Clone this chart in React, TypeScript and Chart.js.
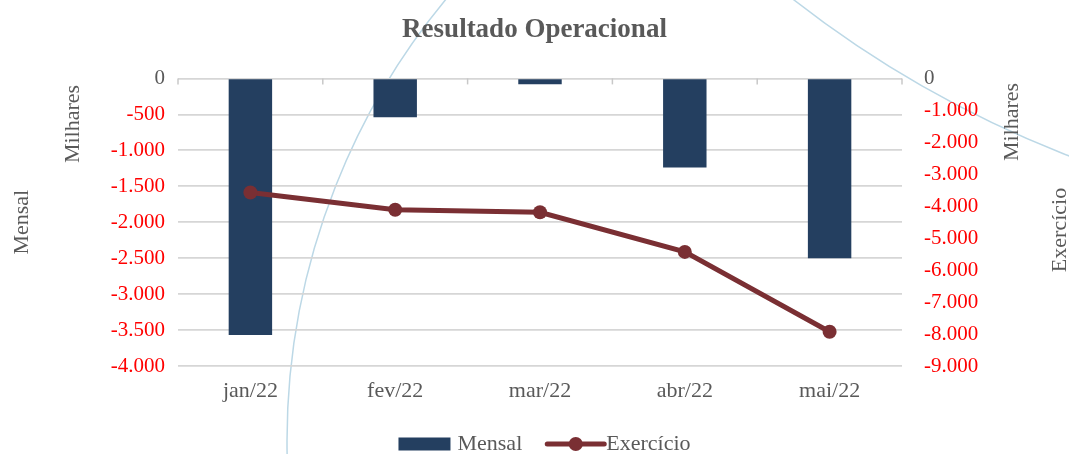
import React, { useEffect, useRef } from 'react';
import { Chart, registerables } from 'chart.js';

Chart.register(...registerables);

const categories = ['jan/22', 'fev/22', 'mar/22', 'abr/22', 'mai/22'];
const mensal = [-3570, -540, -80, -1240, -2500];
const exercicio = [-3570, -4110, -4190, -5430, -7930];
const leftRange = [-4000, 0, 500];
const rightRange = [-9000, 0, 1000];
const seriesNames = ['Mensal', 'Exercício'];
const unitLabel = 'Milhares';
const titleText = 'Resultado Operacional';

const FONT = "'Liberation Serif', 'Times New Roman', serif";
const GRAY = '#595959';
const NAVY = '#243f60';
const WINE = '#7a2f33';
const ARC = '#bcd8e6';

const fmt = (v: number) => {
  const s = Math.abs(v).toString().replace(/\B(?=(\d{3})+(?!\d))/g, '.');
  return (v < 0 ? '-' : '') + s;
};

const decorPlugin = {
  id: 'decor',
  beforeDraw(chart: any) {
    const ctx = chart.ctx;
    ctx.save();
    ctx.strokeStyle = ARC;
    ctx.lineWidth = 1.5;
    ctx.beginPath();
    ctx.arc(980, 441, 693, 0, Math.PI * 2);
    ctx.stroke();
    ctx.beginPath();
    ctx.arc(1464, -860, 1090, 0, Math.PI * 2);
    ctx.stroke();
    ctx.restore();
  },
  afterDraw(chart: any) {
    const ctx = chart.ctx;
    const area = chart.chartArea;
    const yL = chart.scales.y;
    const y0 = yL.getPixelForValue(0);
    const n = categories.length;
    const w = (area.right - area.left) / n;
    ctx.save();
    // category tick marks on zero line
    ctx.strokeStyle = '#c8c8c8';
    ctx.lineWidth = 1.5;
    for (let i = 0; i <= n; i++) {
      const x = area.left + i * w;
      ctx.beginPath();
      ctx.moveTo(x, y0);
      ctx.lineTo(x, y0 + 6);
      ctx.stroke();
    }
    // axis titles
    ctx.fillStyle = GRAY;
    ctx.font = `22px ${FONT}`;
    ctx.textAlign = 'center';
    ctx.textBaseline = 'middle';
    const vtext = (t: string, x: number, y: number) => {
      ctx.save();
      ctx.translate(x, y);
      ctx.rotate(-Math.PI / 2);
      ctx.fillText(t, 0, 0);
      ctx.restore();
    };
    vtext(seriesNames[0], 22, (area.top + area.bottom) / 2);
    vtext(unitLabel, 73, 124);
    vtext(unitLabel, 1012, 122);
    vtext(seriesNames[1], 1060, 230);
    // legend
    const ly = 444;
    ctx.font = `22px ${FONT}`;
    const t1 = ctx.measureText(seriesNames[0]).width;
    const t2 = ctx.measureText(seriesNames[1]).width;
    const total = 52 + 7 + t1 + 25 + 57 + 2 + t2;
    let x = chart.width / 2 + 10 - total / 2;
    ctx.fillStyle = NAVY;
    ctx.fillRect(x, ly - 6.5, 52, 13);
    x += 59;
    ctx.fillStyle = GRAY;
    ctx.textAlign = 'left';
    ctx.fillText(seriesNames[0], x, ly);
    x += t1 + 25;
    ctx.strokeStyle = WINE;
    ctx.lineWidth = 5;
    ctx.lineCap = 'round';
    ctx.beginPath();
    ctx.moveTo(x, ly);
    ctx.lineTo(x + 57, ly);
    ctx.stroke();
    ctx.fillStyle = WINE;
    ctx.beginPath();
    ctx.arc(x + 28.5, ly, 7, 0, Math.PI * 2);
    ctx.fill();
    x += 59;
    ctx.fillStyle = GRAY;
    ctx.fillText(seriesNames[1], x, ly);
    ctx.restore();
  },
};

export default function App() {
  const ref = useRef<HTMLCanvasElement | null>(null);
  useEffect(() => {
    document.body.style.margin = '0';
    const canvas = ref.current;
    if (!canvas) return;
    const chart = new Chart(canvas, {
      type: 'bar',
      data: {
        labels: categories,
        datasets: [
          {
            type: 'line',
            label: seriesNames[1],
            data: exercicio,
            yAxisID: 'y1',
            borderColor: WINE,
            backgroundColor: WINE,
            borderWidth: 5,
            pointRadius: 7,
            pointBorderWidth: 0,
            pointBackgroundColor: WINE,
            order: 0,
          } as any,
          {
            type: 'bar',
            label: seriesNames[0],
            data: mensal,
            yAxisID: 'y',
            backgroundColor: NAVY,
            barPercentage: 0.3,
            categoryPercentage: 1,
            order: 1,
          },
        ],
      },
      options: {
        animation: false,
        responsive: false,
        maintainAspectRatio: false,
        layout: { padding: 0 },
        plugins: {
          legend: { display: false },
          tooltip: { enabled: false },
          title: {
            display: true,
            text: titleText,
            color: GRAY,
            font: { family: FONT, size: 27, weight: 'bold' },
            padding: { top: 14, bottom: 32 },
          },
        },
        scales: {
          x: {
            grid: { display: false, drawTicks: false },
            border: { display: false },
            ticks: { color: GRAY, font: { family: FONT, size: 22 }, padding: 12 },
            afterFit(scale: any) {
              scale.height = 88;
            },
          },
          y: {
            position: 'left',
            min: leftRange[0],
            max: leftRange[1],
            grid: { color: '#d6d6d6', lineWidth: 1.7, drawTicks: false },
            border: { display: false },
            ticks: {
              stepSize: leftRange[2],
              padding: 13,
              font: { family: FONT, size: 21 },
              color: (c: any) => (c.tick && c.tick.value === 0 ? GRAY : '#ff0000'),
              callback: (v: any) => fmt(Number(v)),
            },
            afterFit(scale: any) {
              scale.width = 178;
            },
          },
          y1: {
            position: 'right',
            min: rightRange[0],
            max: rightRange[1],
            grid: { display: false, drawTicks: false },
            border: { display: false },
            ticks: {
              stepSize: rightRange[2],
              padding: 22,
              font: { family: FONT, size: 21 },
              color: (c: any) => (c.tick && c.tick.value === 0 ? GRAY : '#ff0000'),
              callback: (v: any) => fmt(Number(v)),
            },
            afterFit(scale: any) {
              scale.width = 167;
            },
          },
        },
      } as any,
      plugins: [decorPlugin],
    });
    return () => chart.destroy();
  }, []);
  return (
    <div style={{ width: 1069, height: 454 }}>
      <canvas ref={ref} width={1069} height={454} />
    </div>
  );
}
